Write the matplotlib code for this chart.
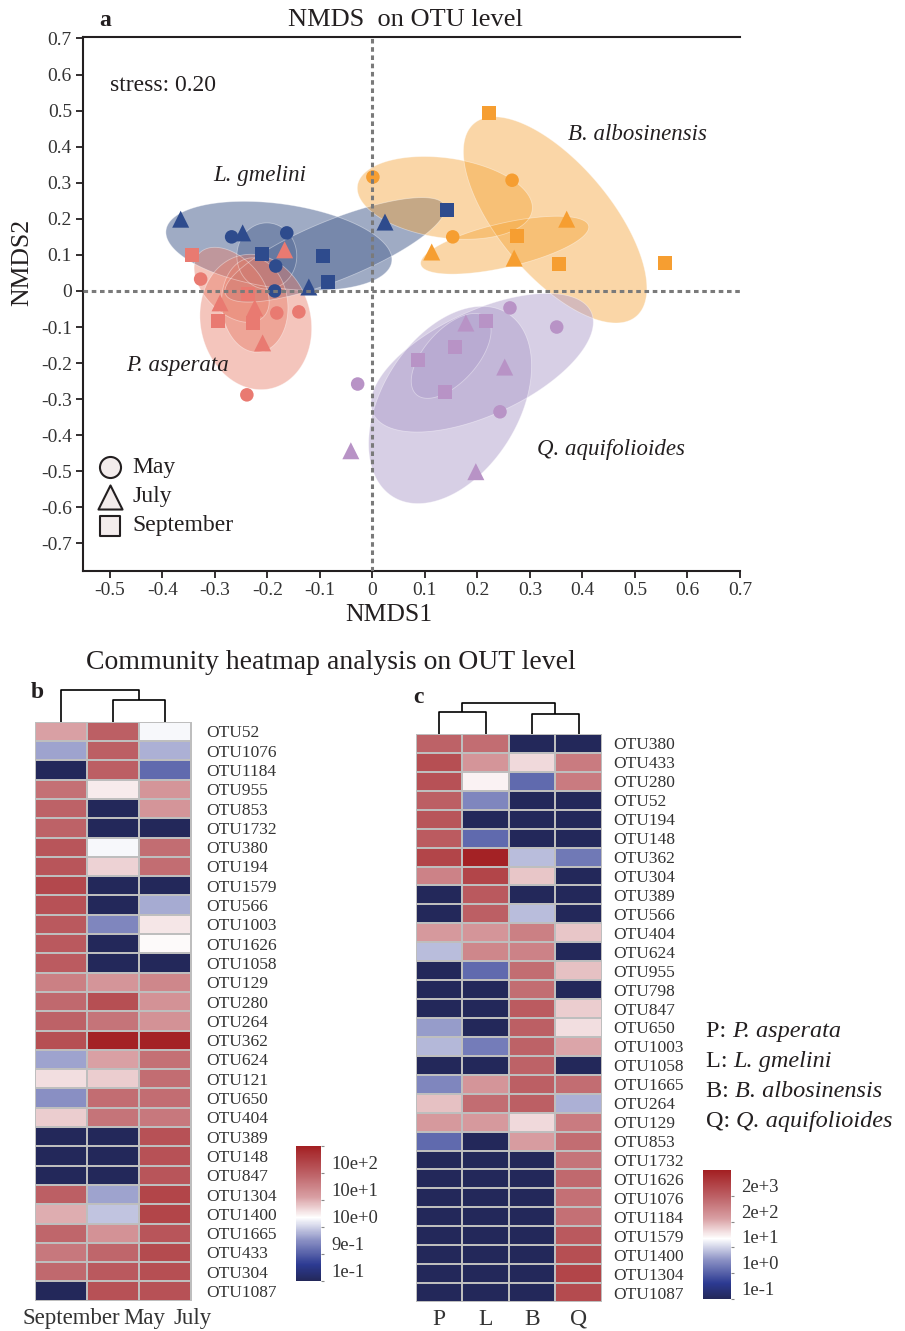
import numpy as np
import matplotlib
matplotlib.use("Agg")
import matplotlib.pyplot as plt
from matplotlib.colors import LinearSegmentedColormap, Normalize
from matplotlib.cm import ScalarMappable
from matplotlib.patches import Polygon

INK = "#231F20"
plt.rcParams.update({
    "font.family": ["Liberation Serif", "DejaVu Serif"],
    "text.color": INK, "axes.labelcolor": INK, "axes.edgecolor": INK,
    "xtick.color": INK, "ytick.color": INK,
    "axes.unicode_minus": False,
})

# ---- NMDS scores (NMDS1, NMDS2) per tree species and month ----
LG_MAY = [(-0.268, 0.150), (-0.163, 0.161), (-0.184, 0.069), (-0.186, 0.000)]
LG_JUL = [(-0.365, 0.199), (-0.247, 0.161), (-0.121, 0.011), (0.024, 0.191)]
LG_SEP = [(-0.210, 0.102), (-0.094, 0.097), (-0.085, 0.025), (0.142, 0.224)]

PA_MAY = [(-0.327, 0.033), (-0.182, -0.061), (-0.140, -0.058), (-0.239, -0.288)]
PA_JUL = [(-0.167, 0.114), (-0.290, -0.033), (-0.224, -0.047), (-0.209, -0.144)]
PA_SEP = [(-0.344, 0.100), (-0.294, -0.083), (-0.228, -0.089), (-0.237, -0.008)]

BA_MAY = [(0.001, 0.316), (0.266, 0.307), (0.153, 0.150)]
BA_JUL = [(0.370, 0.199), (0.113, 0.108), (0.270, 0.091)]
BA_SEP = [(0.222, 0.493), (0.275, 0.152), (0.355, 0.075), (0.557, 0.078)]

QA_MAY = [(0.262, -0.047), (0.351, -0.100), (-0.028, -0.258), (0.243, -0.335)]
QA_JUL = [(0.178, -0.089), (0.252, -0.211), (-0.041, -0.443), (0.197, -0.501)]
QA_SEP = [(0.216, -0.083), (0.157, -0.155), (0.087, -0.191), (0.138, -0.280)]

# confidence ellipses: centre x, centre y, semi-major, semi-minor (NMDS1 units), angle (deg)
LG_ELL = [(-0.178, 0.125, 0.217, 0.080, -8), (-0.071, 0.114, 0.225, 0.057, 22),
          (-0.201, 0.097, 0.063, 0.057, 90)]
PA_ELL = [(-0.222, -0.086, 0.130, 0.105, 103), (-0.224, -0.039, 0.090, 0.063, 95),
          (-0.268, 0.017, 0.086, 0.053, -45)]
BA_ELL = [(0.138, 0.258, 0.168, 0.076, -8), (0.348, 0.197, 0.240, 0.107, -50),
          (0.252, 0.127, 0.164, 0.042, 13)]
QA_ELL = [(0.209, -0.199, 0.229, 0.099, 25), (0.148, -0.316, 0.206, 0.130, 58),
          (0.150, -0.180, 0.099, 0.050, 48)]

SPECIES = ["L. gmelini", "P. asperata", "B. albosinensis", "Q. aquifolioides"]
SP_POINTS = [(LG_MAY, LG_JUL, LG_SEP), (PA_MAY, PA_JUL, PA_SEP),
             (BA_MAY, BA_JUL, BA_SEP), (QA_MAY, QA_JUL, QA_SEP)]
SP_ELL = [LG_ELL, PA_ELL, BA_ELL, QA_ELL]
SP_LABEL_XY = [(-0.214, 0.319), (-0.372, -0.208), (0.504, 0.435), (0.454, -0.440)]
MONTHS = ["May", "July", "September"]
STRESS = 0.20

# ---- heatmap b: relative abundance by month (colour scale position 0-1) ----
B_COLS = ["September", "May", "July"]
B_ROWS = ["OTU52", "OTU1076", "OTU1184", "OTU955", "OTU853", "OTU1732", "OTU380",
          "OTU194", "OTU1579", "OTU566", "OTU1003", "OTU1626", "OTU1058", "OTU129",
          "OTU280", "OTU264", "OTU362", "OTU624", "OTU121", "OTU650", "OTU404",
          "OTU389", "OTU148", "OTU847", "OTU1304", "OTU1400", "OTU1665", "OTU433",
          "OTU304", "OTU1087"]
B_SEP = [0.62, 0.33, 0.00, 0.75, 0.79, 0.79, 0.83, 0.83, 0.87, 0.84, 0.82, 0.82, 0.81, 0.71,
         0.77, 0.79, 0.85, 0.33, 0.52, 0.30, 0.55, 0.00, 0.00, 0.00, 0.80, 0.60, 0.78, 0.73,
         0.77, 0.00]
B_MAY = [0.80, 0.80, 0.80, 0.50, 0.00, 0.00, 0.46, 0.54, 0.00, 0.00, 0.28, 0.00, 0.00, 0.65,
         0.85, 0.74, 0.99, 0.62, 0.55, 0.76, 0.74, 0.00, 0.00, 0.00, 0.33, 0.38, 0.66, 0.78,
         0.82, 0.84]
B_JUL = [0.46, 0.35, 0.22, 0.65, 0.65, 0.00, 0.76, 0.76, 0.00, 0.34, 0.51, 0.48, 0.00, 0.69,
         0.66, 0.66, 0.99, 0.75, 0.76, 0.76, 0.73, 0.84, 0.84, 0.83, 0.88, 0.88, 0.83, 0.86,
         0.85, 0.84]
B_TICKS = ["1e-1", "9e-1", "10e+0", "10e+1", "10e+2", ""]

# ---- heatmap c: relative abundance by tree species ----
C_COLS = ["P", "L", "B", "Q"]
C_ROWS = ["OTU380", "OTU433", "OTU280", "OTU52", "OTU194", "OTU148", "OTU362", "OTU304",
          "OTU389", "OTU566", "OTU404", "OTU624", "OTU955", "OTU798", "OTU847", "OTU650",
          "OTU1003", "OTU1058", "OTU1665", "OTU264", "OTU129", "OTU853", "OTU1732",
          "OTU1626", "OTU1076", "OTU1184", "OTU1579", "OTU1400", "OTU1304", "OTU1087"]
C_P = [0.79, 0.85, 0.84, 0.80, 0.83, 0.81, 0.88, 0.70, 0.00, 0.00, 0.64, 0.37, 0.00, 0.00,
       0.00, 0.32, 0.36, 0.00, 0.28, 0.57, 0.64, 0.22, 0.00, 0.00, 0.00, 0.00, 0.00, 0.00,
       0.00, 0.00]
C_L = [0.76, 0.65, 0.49, 0.28, 0.00, 0.22, 0.99, 0.88, 0.82, 0.80, 0.65, 0.69, 0.22, 0.00,
       0.00, 0.00, 0.26, 0.00, 0.65, 0.76, 0.64, 0.00, 0.00, 0.00, 0.00, 0.00, 0.00, 0.00,
       0.00, 0.00]
C_B = [0.00, 0.53, 0.22, 0.00, 0.00, 0.00, 0.37, 0.56, 0.00, 0.37, 0.71, 0.70, 0.76, 0.76,
       0.81, 0.80, 0.79, 0.79, 0.80, 0.80, 0.53, 0.63, 0.00, 0.00, 0.00, 0.00, 0.00, 0.00,
       0.00, 0.00]
C_Q = [0.00, 0.72, 0.72, 0.00, 0.00, 0.00, 0.25, 0.00, 0.00, 0.00, 0.56, 0.00, 0.57, 0.00,
       0.55, 0.52, 0.61, 0.00, 0.76, 0.35, 0.72, 0.76, 0.74, 0.77, 0.75, 0.75, 0.82, 0.85,
       0.88, 0.86]
C_TICKS = ["1e-1", "1e+0", "1e+1", "2e+2", "2e+3"]
C_KEY = [("P", "P. asperata"), ("L", "L. gmelini"), ("B", "B. albosinensis"),
         ("Q", "Q. aquifolioides")]

# dendrogram joins: (left x, left base, right x, right base, join height) in cell units
B_TREE = [(1.5, 0.0, 2.5, 0.0, 1.12), (0.5, 0.0, 2.0, 1.12, 1.64)]
C_TREE = [(0.5, 0.0, 1.5, 0.0, 1.18), (2.5, 0.0, 3.5, 0.0, 1.06), (1.0, 1.18, 3.0, 1.06, 1.65)]

# ---- styling ----
PT_COL = ["#2E4B8D", "#E97A71", "#F69E31", "#B893C6"]
ELL_COL = ["#5A6F9A", "#E8806C", "#F5A63C", "#B1A0CD"]
ELL_ALPHA = [0.58, 0.45, 0.45, 0.5]
MARK = {"May": ("o", 95), "July": ("^", 150), "September": ("s", 100)}
HEAT_CMAP = LinearSegmentedColormap.from_list("otu", [
    (0.0, "#23285A"), (0.12, "#2C3A92"), (0.3, "#8A90C4"), (0.47, "#FFFFFF"),
    (0.62, "#D9A0A4"), (0.8, "#BC5F64"), (1.0, "#A31F22")])
GRID = "#BEBEBE"

W, H = 905, 1331
fig = plt.figure(figsize=(W / 100, H / 100), dpi=100)


def fbox(x0, y0, x1, y1):
    """pixel box (left, top, right, bottom) -> figure fraction rect"""
    return [x0 / W, 1 - y1 / H, (x1 - x0) / W, (y1 - y0) / H]


def draw_ellipse(ax, cx, cy, a, b, ang, color, alpha):
    kx = ax.bbox.width / np.ptp(ax.get_xlim())
    ky = ax.bbox.height / np.ptp(ax.get_ylim())
    t = np.linspace(0, 2 * np.pi, 240)
    th = np.deg2rad(ang)
    ux = a * np.cos(t) * np.cos(th) - b * np.sin(t) * np.sin(th)
    uy = a * np.cos(t) * np.sin(th) + b * np.sin(t) * np.cos(th)
    pts = np.column_stack([cx + ux, cy + uy * kx / ky])
    ax.add_patch(Polygon(pts, closed=True, facecolor=color, alpha=alpha,
                         edgecolor="none", zorder=1))
    ax.add_patch(Polygon(pts, closed=True, fill=False, edgecolor="white",
                         lw=0.6, alpha=0.4, zorder=1.1))


# ================= a: NMDS ordination =================
ax = fig.add_axes(fbox(83, 37.4, 740, 570.5))
ax.set_xlim(-0.551, 0.70)
ax.set_ylim(-0.775, 0.703)

for sp, ells, col, ecol, ea in zip(SPECIES, SP_ELL, PT_COL, ELL_COL, ELL_ALPHA):
    for e in ells:
        draw_ellipse(ax, *e, ecol, ea)

for pts_by_month, col in zip(SP_POINTS, PT_COL):
    for month, pts in zip(MONTHS, pts_by_month):
        m, s = MARK[month]
        xy = np.array(pts)
        ax.scatter(xy[:, 0], xy[:, 1], marker=m, s=s, color=col,
                   edgecolors="none", zorder=2)

for sp, (lx, ly) in zip(SPECIES, SP_LABEL_XY):
    ax.text(lx, ly, sp, style="italic", fontsize=16.5, ha="center", va="center")

ax.axhline(0, color="#7A7A7A", lw=2.2, ls=(0, (1.5, 1.2)), zorder=3)
ax.axvline(0, color="#7A7A7A", lw=2.2, ls=(0, (1.5, 1.2)), zorder=3)

ax.text(-0.5, 0.571, f"stress: {STRESS:.2f}", fontsize=17, ha="left", va="center")

# month legend
leg_y = [0.194, 0.138, 0.0835]
leg_s = {"May": 230, "July": 300, "September": 190}
for month, yy in zip(MONTHS, leg_y):
    ax.scatter([0.041], [yy], marker=MARK[month][0], s=leg_s[month],
               facecolor="#F3ECEC", edgecolor=INK, lw=1.5,
               transform=ax.transAxes, clip_on=False, zorder=4)
    ax.text(0.0746, yy, month, fontsize=17, ha="left", va="center",
            transform=ax.transAxes)

xt = np.round(np.arange(-0.5, 0.71, 0.1), 1)
yt = np.round(np.arange(-0.7, 0.71, 0.1), 1)
fmt = lambda v: "0" if v == 0 else f"{v:.1f}"
ax.set_xticks(xt, [fmt(v) for v in xt])
ax.set_yticks(yt, [fmt(v) for v in yt])
ax.tick_params(direction="out", length=5, width=1.3, labelsize=14, pad=3,
               labelcolor="#333333")
for s in ("left", "bottom", "top"):
    ax.spines[s].set_linewidth(1.5)
ax.spines["right"].set_visible(False)

ax.set_xlabel("NMDS1", fontsize=18.5)
ax.xaxis.set_label_coords((389 - 83) / 657, (570.5 - 615) / 533)
ax.xaxis.label.set_va("center")
ax.set_ylabel("NMDS2", fontsize=18.5)
ax.yaxis.set_label_coords((22 - 83) / 657, (570.5 - 262) / 533)
ax.yaxis.label.set_va("center")

fig.text(105 / W, 1 - 20 / H, "a", fontsize=17, fontweight="bold", ha="center", va="center")
fig.text(405 / W, 1 - 20 / H, "NMDS  on OTU level", fontsize=19, ha="center", va="center")

# ================= heatmaps =================
fig.text(331 / W, 1 - 663 / H, "Community heatmap analysis on OUT level",
         fontsize=20, ha="center", va="center")


def heatmap(ax, cols_data, rows, tree, label_pad):
    vals = np.column_stack(cols_data)
    nr, nc = vals.shape
    ax.pcolormesh(np.arange(nc + 1), np.arange(nr + 1), vals, cmap=HEAT_CMAP,
                  norm=Normalize(0, 1), edgecolors=GRID, linewidth=1.1)
    ax.set_xlim(0, nc)
    ax.set_ylim(nr, 0)
    for s in ax.spines.values():
        s.set_visible(False)
    ax.yaxis.tick_right()
    ax.set_yticks(np.arange(nr) + 0.5, rows)
    ax.tick_params(axis="y", length=0, pad=label_pad, labelsize=12.5, labelcolor="#333333")
    for x1, b1, x2, b2, h in tree:
        ax.plot([x1, x1, x2, x2], [-b1, -h, -h, -b2], color="black", lw=1.2,
                clip_on=False, solid_capstyle="butt")


def colorbar(cax, ticks, labels):
    cb = fig.colorbar(ScalarMappable(norm=Normalize(0, 1), cmap=HEAT_CMAP), cax=cax)
    cb.outline.set_visible(False)
    cb.set_ticks(ticks, labels=labels)
    cax.tick_params(length=2.5, width=0.8, color="#888888", labelsize=13.4, pad=5,
                    labelcolor="#333333")
    for t in cax.get_yticklabels():
        t.set_va("bottom")


# b: months
axb = fig.add_axes(fbox(35, 721.7, 192.7, 1300.7))
heatmap(axb, [B_SEP, B_MAY, B_JUL], B_ROWS, B_TREE, label_pad=9.5)
axb.set_xticks([0.704, 2.11, 3.04], B_COLS)
axb.tick_params(axis="x", length=0, pad=5, labelsize=16.5, labelcolor="#333333")
fig.text(37 / W, 1 - 693 / H, "b", fontsize=17, fontweight="bold", ha="center", va="center")

caxb = fig.add_axes(fbox(296, 1146, 321, 1281))
colorbar(caxb, [0, 0.2, 0.4, 0.6, 0.8, 1.0], B_TICKS)

# c: tree species
axc = fig.add_axes(fbox(415.7, 734, 602, 1302))
heatmap(axc, [C_P, C_L, C_B, C_Q], C_ROWS, C_TREE, label_pad=8)
axc.set_xticks(np.arange(4) + 0.5, C_COLS)
axc.tick_params(axis="x", length=0, pad=5, labelsize=17, labelcolor="#333333")
fig.text(418 / W, 1 - 698 / H, "c", fontsize=17, fontweight="bold", ha="center", va="center")

caxc = fig.add_axes(fbox(703, 1170, 731, 1299))
colorbar(caxc, [0, 0.2, 0.4, 0.6, 0.8], C_TICKS)

# species key: roman abbreviation followed by the italic name
renderer = fig.canvas.get_renderer()
key_base = [1037, 1067, 1097, 1127]
for (abbr, name), yb in zip(C_KEY, key_base):
    t = fig.text(706 / W, 1 - yb / H, abbr + ": ", fontsize=17.5, ha="left", va="baseline")
    x1 = t.get_window_extent(renderer).x1
    fig.text(x1 / W, 1 - yb / H, name, fontsize=17.5, style="italic",
             ha="left", va="baseline")

fig.savefig("out.png", dpi=100)
